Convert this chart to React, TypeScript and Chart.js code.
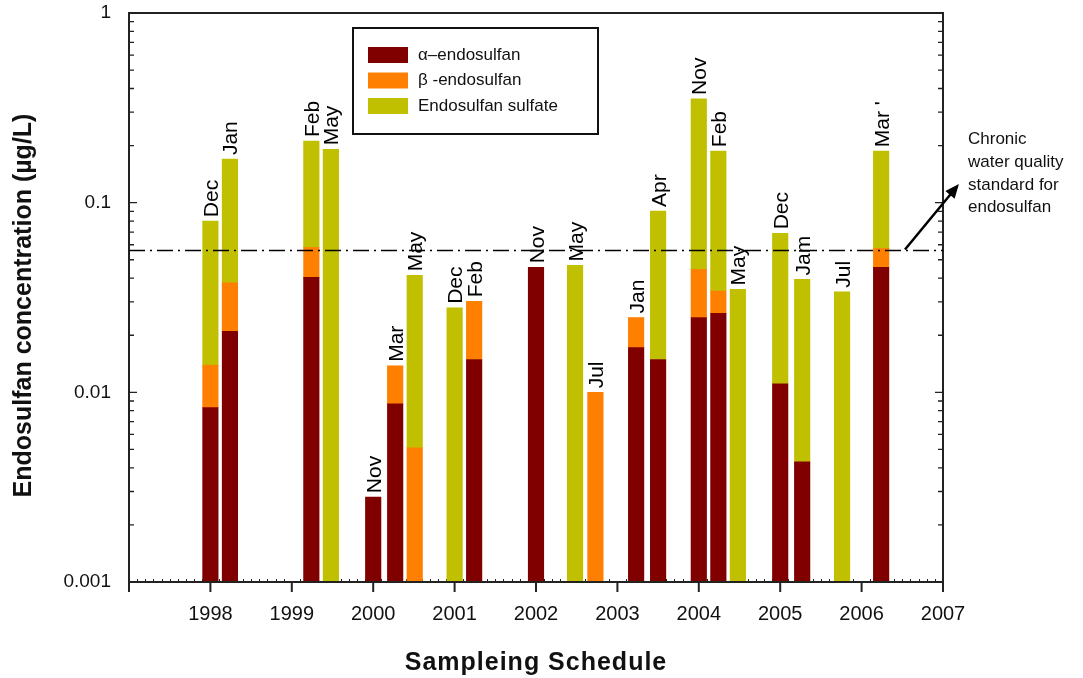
import React, { useEffect, useRef } from "react";
import { Chart, registerables } from "chart.js";

Chart.register(...registerables);

// ---- data ----
const samplePositions = [
  1998.0, 1998.24, 1999.24, 1999.48, 2000.0, 2000.27, 2000.51, 2001.0, 2001.24, 2002.0, 2002.48,
  2002.73, 2003.23, 2003.5, 2004.0, 2004.24, 2004.48, 2005.0, 2005.27, 2005.76, 2006.24,
];
const monthLabels = [
  "Dec", "Jan", "Feb", "May", "Nov", "Mar", "May", "Dec", "Feb", "Nov", "May",
  "Jul", "Jan", "Apr", "Nov", "Feb", "May", "Dec", "Jam", "Jul", "Mar '",
];
const alphaValues = [
  0.0083, 0.021, 0.0404, null, 0.0028, 0.0087, null, null, 0.0149, 0.0456, null,
  null, 0.0172, 0.0149, 0.0248, 0.0261, null, 0.0111, 0.0043, null, 0.0456,
];
const betaValues = [
  0.0056, 0.0168, 0.0177, null, null, 0.0051, 0.0051, null, 0.0153, null, null,
  0.01, 0.0076, null, 0.0197, 0.0081, null, null, null, null, 0.0118,
];
const sulfateValues = [
  0.066, 0.132, 0.153, 0.191, null, null, 0.0363, 0.0279, null, null, 0.0467,
  null, null, 0.0755, 0.308, 0.1526, 0.0349, 0.0578, 0.0351, 0.0339, 0.1294,
];
const seriesNames = ["\u03b1\u2013endosulfan", "\u03b2 -endosulfan", "Endosulfan sulfate"];
const yearTicks = [1998, 1999, 2000, 2001, 2002, 2003, 2004, 2005, 2006, 2007];
const yTickValues = [0.001, 0.01, 0.1, 1];
const standardValue = 0.056;
const standardNote = ["Chronic", "water quality", "standard for", "endosulfan"];
const xTitle = "Sampleing Schedule";
const yTitle = "Endosulfan concentration (\u00b5g/L)";

const seriesColors = ["#800000", "#FF8000", "#C0C000"];
const FONT = "Arial, 'Liberation Sans', sans-serif";

const allSeries = [alphaValues, betaValues, sulfateValues];

const decorPlugin = {
  id: "decor",
  beforeDatasetsDraw(chart: any) {
    const { ctx, chartArea: a, scales } = chart;
    const x = scales.x;
    ctx.save();
    ctx.strokeStyle = "#222";
    ctx.lineWidth = 1;
    // minor x ticks (inside)
    for (let k = 0; k <= 100; k++) {
      if (k % 10 === 0) continue;
      const v = 1997 + k / 10;
      const px = Math.round(x.getPixelForValue(v)) + 0.5;
      ctx.beginPath();
      ctx.moveTo(px, a.bottom);
      ctx.lineTo(px, a.bottom - 3);
      ctx.stroke();
    }
    ctx.restore();
  },
  afterDatasetsDraw(chart: any) {
    const { ctx, chartArea: a, scales } = chart;
    const x = scales.x;
    const y = scales.y;
    ctx.save();

    // frame
    ctx.strokeStyle = "#222";
    ctx.lineWidth = 2;
    ctx.strokeRect(a.left, a.top, a.right - a.left, a.bottom - a.top);

    // y ticks (both sides, inside)
    ctx.lineWidth = 1.3;
    for (let d = -3; d <= 0; d++) {
      for (let m = 1; m <= 9; m++) {
        if (d === 0 && m > 1) break;
        const v = m * Math.pow(10, d);
        const py = y.getPixelForValue(v);
        const len = m === 1 ? 8 : 5;
        ctx.beginPath();
        ctx.moveTo(a.left, py);
        ctx.lineTo(a.left + len, py);
        ctx.moveTo(a.right, py);
        ctx.lineTo(a.right - len, py);
        ctx.stroke();
      }
    }
    // x major ticks (outside)
    ctx.lineWidth = 2;
    for (let yr = 1997; yr <= 2007; yr++) {
      const px = x.getPixelForValue(yr);
      ctx.beginPath();
      ctx.moveTo(px, a.bottom);
      ctx.lineTo(px, a.bottom + 10);
      ctx.stroke();
    }

    // standard line (dash-dot)
    const sy = y.getPixelForValue(standardValue);
    ctx.strokeStyle = "#000";
    ctx.lineWidth = 1.5;
    ctx.setLineDash([16, 5, 2, 5]);
    ctx.beginPath();
    ctx.moveTo(a.left, sy);
    ctx.lineTo(a.right, sy);
    ctx.stroke();
    ctx.setLineDash([]);

    // arrow to note
    const ax0 = a.right - 38;
    const ay0 = sy - 1;
    const ax1 = a.right + 14;
    const ay1 = sy - 64;
    ctx.lineWidth = 2.5;
    ctx.beginPath();
    ctx.moveTo(ax0, ay0);
    ctx.lineTo(ax1, ay1);
    ctx.stroke();
    const ang = Math.atan2(ay1 - ay0, ax1 - ax0);
    ctx.fillStyle = "#000";
    ctx.beginPath();
    ctx.moveTo(ax1 + 3 * Math.cos(ang), ay1 + 3 * Math.sin(ang));
    ctx.lineTo(ax1 - 11 * Math.cos(ang) + 6 * Math.sin(ang), ay1 - 11 * Math.sin(ang) - 6 * Math.cos(ang));
    ctx.lineTo(ax1 - 11 * Math.cos(ang) - 6 * Math.sin(ang), ay1 - 11 * Math.sin(ang) + 6 * Math.cos(ang));
    ctx.closePath();
    ctx.fill();

    // note text
    ctx.fillStyle = "#111";
    ctx.font = `17px ${FONT}`;
    ctx.textAlign = "left";
    ctx.textBaseline = "middle";
    standardNote.forEach((t, i) => {
      ctx.fillText(t, a.right + 25, sy - 111 + i * 22.7);
    });

    // month labels above bars
    ctx.font = `21px ${FONT}`;
    ctx.fillStyle = "#000";
    ctx.textAlign = "left";
    ctx.textBaseline = "alphabetic";
    samplePositions.forEach((pos, i) => {
      let total = 0;
      allSeries.forEach((s) => {
        const v = s[i];
        if (v != null) total += v;
      });
      const px = x.getPixelForValue(pos);
      const py = y.getPixelForValue(total) - 4;
      ctx.save();
      ctx.translate(px, py);
      ctx.rotate(-Math.PI / 2);
      ctx.fillText(monthLabels[i], 0, 7.5);
      ctx.restore();
    });

    // legend
    const lx = a.left + 224;
    const ly = a.top + 15;
    ctx.strokeStyle = "#111";
    ctx.lineWidth = 2;
    ctx.strokeRect(lx, ly, 245, 106);
    ctx.font = `17px ${FONT}`;
    ctx.textBaseline = "middle";
    chart.data.datasets.forEach((ds: any, i: number) => {
      const cy = ly + 27 + i * 25.5;
      ctx.fillStyle = ds.backgroundColor;
      ctx.fillRect(lx + 15, cy - 8, 40, 16);
      ctx.fillStyle = "#111";
      ctx.fillText(ds.label, lx + 65, cy);
    });

    // axis titles
    ctx.fillStyle = "#111";
    ctx.font = `bold 25px ${FONT}`;
    ctx.textAlign = "center";
    ctx.textBaseline = "alphabetic";
    try {
      (ctx as any).letterSpacing = "1px";
    } catch (e) {}
    ctx.fillText(xTitle, (a.left + a.right) / 2, 670);
    try {
      (ctx as any).letterSpacing = "0px";
    } catch (e) {}
    ctx.save();
    ctx.translate(31, (a.top + a.bottom) / 2 + 8);
    ctx.rotate(-Math.PI / 2);
    ctx.fillText(yTitle, 0, 0);
    ctx.restore();

    ctx.restore();
  },
};

export default function App() {
  const canvasRef = useRef<HTMLCanvasElement | null>(null);

  useEffect(() => {
    if (!canvasRef.current) return;
    const datasets = seriesNames.map((name, k) => ({
      label: name,
      data: samplePositions
        .map((pos, i) => ({ x: pos, y: allSeries[k][i] }))
        .filter((p) => p.y != null),
      backgroundColor: seriesColors[k],
      borderWidth: 0,
      barThickness: 15.5,
    }));
    const chart = new Chart(canvasRef.current, {
      type: "bar",
      data: { datasets } as any,
      options: {
        animation: false,
        responsive: true,
        maintainAspectRatio: false,
        layout: { padding: { left: 0, right: 140, top: 13, bottom: 0 } },
        plugins: {
          legend: { display: false },
          tooltip: { enabled: false },
          title: { display: false },
        },
        scales: {
          x: {
            type: "linear",
            min: 1997,
            max: 2007,
            stacked: true,
            offset: false,
            grid: { display: false, drawTicks: false },
            border: { display: false },
            ticks: {
              autoSkip: false,
              maxRotation: 0,
              padding: 20,
              color: "#111",
              font: { family: FONT, size: 20 },
              callback: (v: any) => String(v),
            },
            afterBuildTicks: (s: any) => {
              s.ticks = yearTicks.map((v) => ({ value: v }));
            },
            afterFit: (s: any) => {
              s.height = 96;
              s.paddingTop = 0;
              s.paddingBottom = 0;
            },
          },
          y: {
            type: "logarithmic",
            min: 0.001,
            max: 1,
            stacked: true,
            grid: { display: false, drawTicks: false },
            border: { display: false },
            ticks: {
              autoSkip: false,
              padding: 18,
              color: "#111",
              font: { family: FONT, size: 19 },
              callback: (v: any) => String(v),
            },
            afterBuildTicks: (s: any) => {
              s.ticks = yTickValues.map((v) => ({ value: v }));
            },
            afterFit: (s: any) => {
              s.width = 129;
              s.paddingTop = 0;
              s.paddingBottom = 0;
            },
          },
        } as any,
      },
      plugins: [decorPlugin],
    });
    return () => chart.destroy();
  }, []);

  return (
    <div style={{ position: "fixed", left: 0, top: 0, width: 1083, height: 678, background: "#fff" }}>
      <canvas ref={canvasRef} />
    </div>
  );
}
